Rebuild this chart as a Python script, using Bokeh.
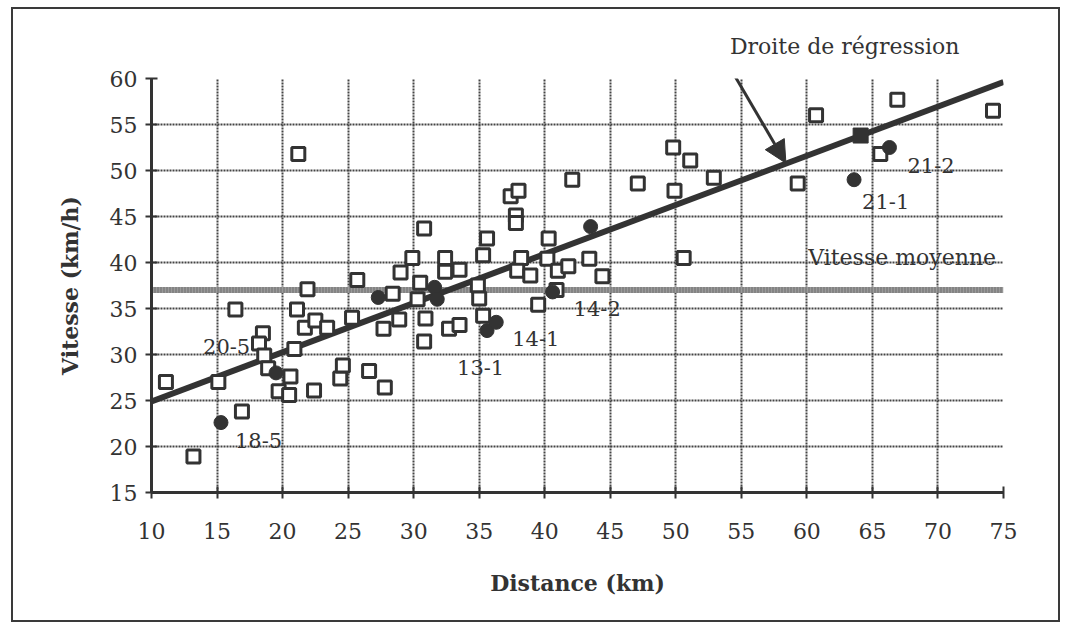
from bokeh.plotting import figure
from bokeh.models import Label, Arrow, NormalHead, Range1d, FixedTicker, ColumnDataSource
from bokeh.core.properties import value
from bokeh.embed import file_html
from bokeh.resources import INLINE

# ---------------- data ----------------
sq_dist = [11.1, 13.2, 15.1, 16.9, 16.4, 18.5, 18.2, 18.6, 18.9, 19.7, 20.5, 20.6,
           20.9, 21.1, 21.7, 22.5, 23.4, 21.9, 22.4, 24.4, 24.6, 25.3, 25.7, 26.6,
           27.8, 27.7, 21.2, 28.9, 28.4, 29.0, 29.9, 30.5, 30.3, 30.9, 30.8, 30.8,
           32.4, 32.4, 33.5, 32.7, 33.5, 34.9, 35.0, 35.3, 35.3, 35.6, 37.4, 38.0,
           37.8, 37.8, 38.2, 37.9, 38.9, 39.5, 40.3, 40.2, 41.0, 41.8, 40.9, 43.4,
           44.4, 42.1, 47.1, 49.9, 49.8, 51.1, 52.9, 50.6, 59.3, 60.7, 65.6, 66.9,
           74.2]
sq_speed = [27.0, 18.9, 27.0, 23.8, 34.9, 32.3, 31.2, 29.9, 28.5, 26.0, 25.6, 27.6,
            30.6, 34.9, 32.9, 33.7, 32.9, 37.1, 26.1, 27.4, 28.8, 34.0, 38.1, 28.2,
            26.4, 32.8, 51.8, 33.8, 36.6, 38.9, 40.5, 37.8, 36.0, 33.9, 31.4, 43.7,
            40.5, 39.0, 39.2, 32.8, 33.2, 37.5, 36.1, 34.2, 40.8, 42.6, 47.2, 47.8,
            45.1, 44.3, 40.5, 39.1, 38.6, 35.4, 42.6, 40.4, 39.1, 39.6, 37.0, 40.4,
            38.5, 49.0, 48.6, 47.8, 52.5, 51.1, 49.2, 40.5, 48.6, 56.0, 51.8, 57.7,
            56.5]

circ_dist = [15.3, 19.5, 27.3, 31.6, 31.8, 35.6, 36.3, 40.6, 43.5, 63.6, 66.3]
circ_speed = [22.6, 28.0, 36.2, 37.3, 36.0, 32.6, 33.5, 36.8, 43.9, 49.0, 52.5]
circ_labels = ["18-5", "20-5", "", "", "", "13-1", "14-1", "14-2", "", "21-1", "21-2"]

filled_sq_dist = [64.1]
filled_sq_speed = [53.8]

mean_speed = 37.0
reg_intercept = 19.56
reg_slope = 0.534

x_ticks = [10, 15, 20, 25, 30, 35, 40, 45, 50, 55, 60, 65, 70, 75]
y_ticks = [15, 20, 25, 30, 35, 40, 45, 50, 55, 60]

# label pixel offsets (style), aligned with circ_labels
lab_dx = [14, -73, 0, 0, 0, -30, 16, 21, 0, 8, 18]
lab_dy = [18, -26, 0, 0, 0, 37, 16, 17, 0, 22, 18]

FONT = "DejaVu Serif"
INK = "#333333"

p = figure(frame_width=852, frame_height=414,
           x_range=Range1d(x_ticks[0], x_ticks[-1]),
           y_range=Range1d(y_ticks[0], y_ticks[-1]),
           min_border_left=138, min_border_right=55,
           min_border_top=69, min_border_bottom=128,
           output_backend="svg", toolbar_location=None,
           title="Droite de régression")
p.styles = {"border": "2px solid #3a3a3a", "margin-left": "11px", "margin-top": "7px"}
p.outline_line_color = None
p.background_fill_color = "white"
p.border_fill_color = "white"

p.title.align = "right"
p.title.offset = 44
p.title.text_font = FONT
p.title.text_font_size = "22px"
p.title.text_font_style = "normal"
p.title.text_color = INK
p.title.standoff = 40

for ax, ticks in ((p.xaxis, x_ticks), (p.yaxis, y_ticks)):
    ax.ticker = FixedTicker(ticks=ticks)
    ax.axis_line_width = 3
    ax.axis_line_color = INK
    ax.major_tick_line_color = INK
    ax.major_tick_line_width = 2
    ax.major_tick_in = 6
    ax.major_tick_out = 6
    ax.minor_tick_line_color = None
    ax.major_label_text_font = FONT
    ax.major_label_text_font_size = "22px"
    ax.major_label_text_color = INK
    ax.axis_label_text_font = FONT
    ax.axis_label_text_font_size = "22px"
    ax.axis_label_text_font_style = "bold"
    ax.axis_label_text_color = INK

p.xaxis.axis_label = "Distance (km)"
p.yaxis.axis_label = "Vitesse (km/h)"
p.xaxis.major_label_standoff = 24
p.xaxis.axis_label_standoff = 28
p.yaxis.major_label_standoff = 8
p.yaxis.axis_label_standoff = 24

for g in (p.xgrid, p.ygrid):
    g.grid_line_color = "#444444"
    g.grid_line_width = 2
    g.grid_line_dash = "2 1"

# mean speed line
p.line(x=[x_ticks[0], x_ticks[-1]], y=[mean_speed, mean_speed],
       line_width=6, line_color="#9a9a9a")
p.line(x=[x_ticks[0], x_ticks[-1]], y=[mean_speed, mean_speed],
       line_width=6, line_color="#6e6e6e", line_dash="1 2")

# regression line
reg_x = [x_ticks[0], x_ticks[-1]]
reg_y = [reg_intercept + reg_slope * v for v in reg_x]
p.line(x=reg_x, y=reg_y, line_width=6, line_color=INK)

# points
p.scatter(x=sq_dist, y=sq_speed, marker="square", size=13, line_width=3,
          line_color=INK, fill_color="white")
p.scatter(x=filled_sq_dist, y=filled_sq_speed, marker="square", size=15,
          line_color=INK, fill_color=INK)
p.scatter(x=circ_dist, y=circ_speed, marker="circle", size=14,
          line_color=INK, fill_color=INK)

src = ColumnDataSource(dict(x=circ_dist, y=circ_speed, t=circ_labels,
                            dx=lab_dx, dy=lab_dy))
p.text(x="x", y="y", text="t", x_offset="dx", y_offset="dy", source=src,
       text_font=value(FONT), text_font_size="21px", text_color=INK,
       text_align="left", text_baseline="middle")

p.add_layout(Label(x=60.1, y=40, y_offset=5, text="Vitesse moyenne", text_font=FONT,
                   text_font_size="22px", text_color=INK,
                   text_align="left", text_baseline="alphabetic"))
p.add_layout(Arrow(end=NormalHead(size=22, fill_color=INK, line_color=INK),
                   x_start=54.35, y_start=60.65, x_end=58.4, y_end=50.8,
                   line_width=3, line_color=INK))

open("out.html", "w").write(file_html(p, INLINE))
